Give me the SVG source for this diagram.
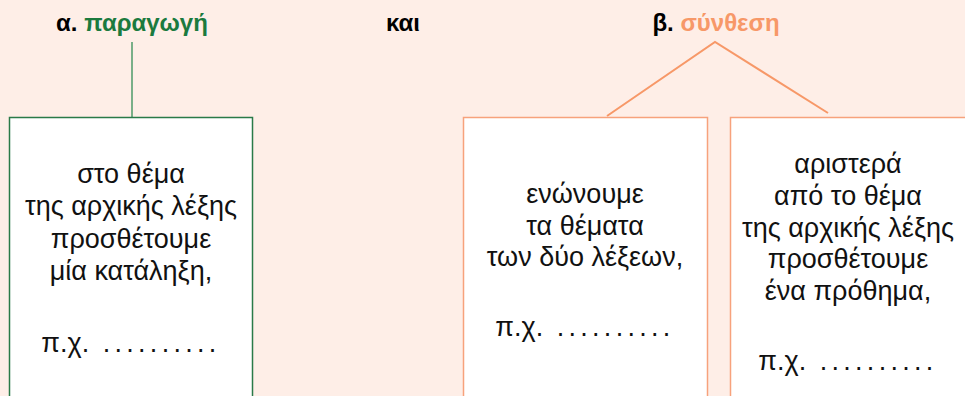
<svg xmlns="http://www.w3.org/2000/svg" width="965" height="396" viewBox="0 0 965 396">
<style>
.t{font-family:"Liberation Sans",Arial,sans-serif;font-size:27px;fill:#111;text-anchor:middle}
.h{font-family:"Liberation Sans",Arial,sans-serif;font-size:24px;font-weight:bold;fill:#000;text-anchor:middle}
.d{letter-spacing:4.3px}
.g{fill:#1B7A3E}
.o{fill:#F79868}
.bg{fill:#fff;stroke:#2A7A48;stroke-width:1.5}
.bo{fill:#fff;stroke:#F7A27C;stroke-width:1.5}
.cg{stroke:#4E9A68;stroke-width:1.5;fill:none}
.co{stroke:#F79868;stroke-width:2;fill:none}
</style>
<rect width="965" height="396" fill="#FEEEE7"/>
<g id="title-a"><text class="h" x="132" y="31">α. <tspan class="g">παραγωγή</tspan></text></g>
<g id="kai"><text class="h" x="403" y="31">και</text></g>
<g id="title-b"><text class="h" x="716" y="31">β. <tspan class="o">σύνθεση</tspan></text></g>
<g id="connectors">
<line class="cg" x1="132" y1="42" x2="132" y2="117"/>
<polyline class="co" points="607,116 715,42 828,113"/>
</g>
<g id="box-a">
<rect class="bg" x="9.5" y="117.5" width="243" height="290"/>
<text class="t" x="131" y="183">στο θέμα</text>
<text class="t" x="131" y="215">της αρχικής λέξης</text>
<text class="t" x="131" y="248">προσθέτουμε</text>
<text class="t" x="131" y="280">μία κατάληξη,</text>
<text class="t" x="131" y="352">π.χ. <tspan class="d" dx="6">..........</tspan></text>
</g>
<g id="box-b1">
<rect class="bo" x="463.5" y="117.5" width="244" height="290"/>
<text class="t" x="585" y="203">ενώνουμε</text>
<text class="t" x="585" y="235">τα θέματα</text>
<text class="t" x="585" y="266">των δύο λέξεων,</text>
<text class="t" x="585" y="336">π.χ. <tspan class="d" dx="6">..........</tspan></text>
</g>
<g id="box-b2">
<rect class="bo" x="730.5" y="117.5" width="250" height="290"/>
<text class="t" x="848" y="173">αριστερά</text>
<text class="t" x="848" y="205">από το θέμα</text>
<text class="t" x="848" y="237">της αρχικής λέξης</text>
<text class="t" x="848" y="268">προσθέτουμε</text>
<text class="t" x="848" y="300">ένα πρόθημα,</text>
<text class="t" x="848" y="370">π.χ. <tspan class="d" dx="6">..........</tspan></text>
</g>
</svg>
